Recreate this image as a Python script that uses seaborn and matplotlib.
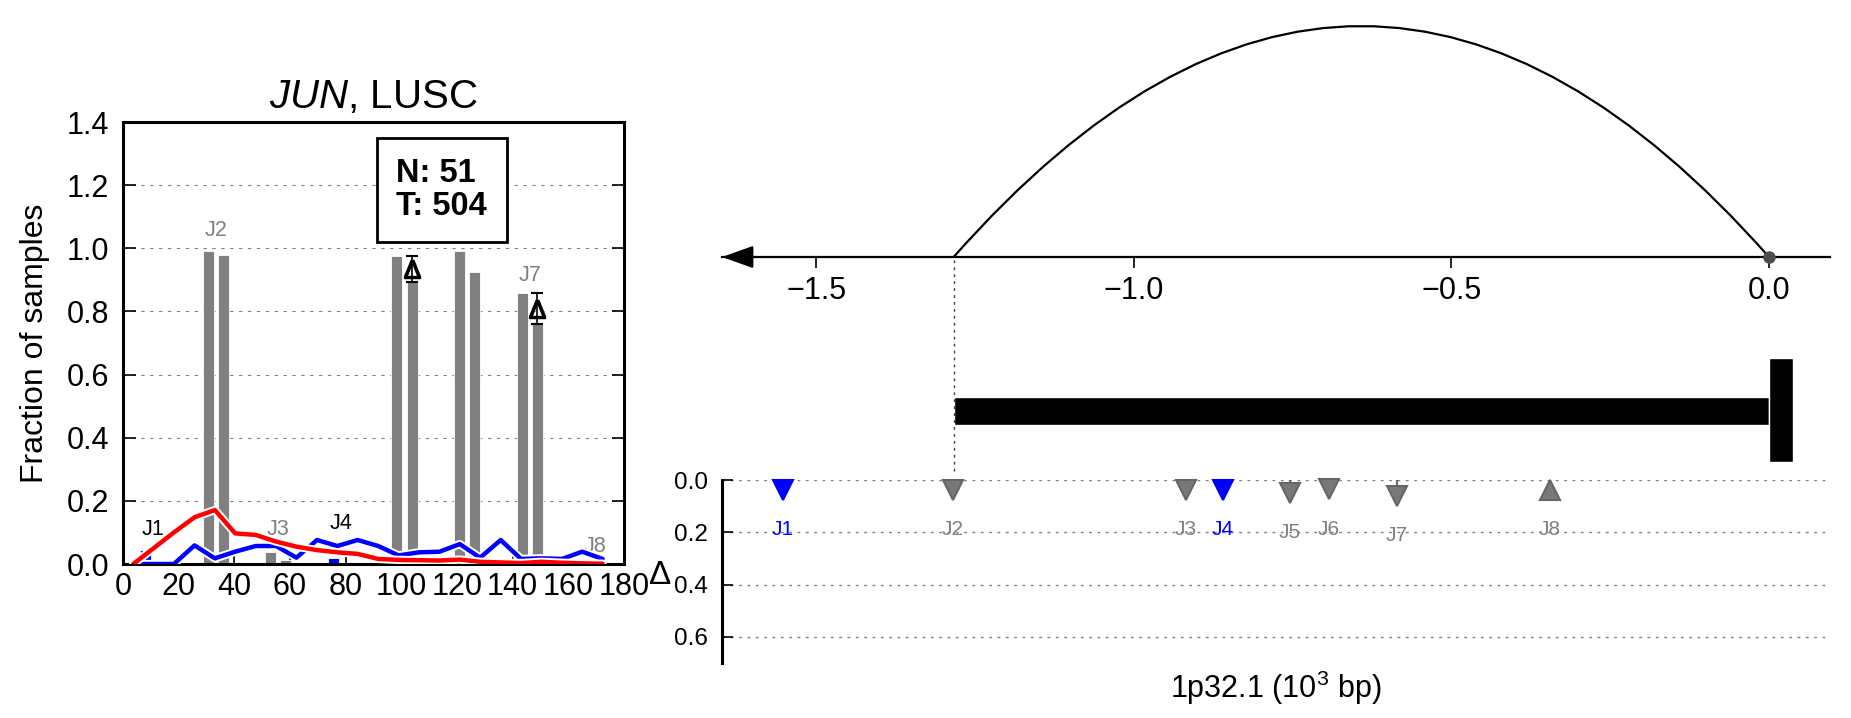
import matplotlib
matplotlib.use("Agg")
import matplotlib.pyplot as plt
import matplotlib.patheffects as pe
from matplotlib.path import Path
from matplotlib.patches import PathPatch
import pandas as pd
import seaborn as sns

# ---------------- data ----------------
# coverage-style profile (left panel), fraction of samples per position bin
bin_pos = [3.7, 11.0, 18.3, 25.7, 33.0, 40.3, 47.7, 55.0, 62.3, 69.7, 77.0, 84.3,
           91.7, 99.0, 106.3, 113.7, 121.0, 128.3, 135.7, 143.0, 150.3, 157.7, 165.0, 172.3]
tumor_frac = [0.0, 0.05, 0.10, 0.148, 0.171, 0.097, 0.092, 0.071, 0.055, 0.044, 0.037, 0.032,
              0.016, 0.013, 0.012, 0.011, 0.014, 0.007, 0.005, 0.003, 0.007, 0.004, 0.002, 0.001]
normal_frac = [0.0, 0.0, 0.0, 0.059, 0.018, 0.039, 0.057, 0.057, 0.020, 0.076, 0.057, 0.076,
               0.057, 0.027, 0.037, 0.039, 0.063, 0.020, 0.076, 0.016, 0.018, 0.016, 0.039, 0.016]

# junctions
junctions = ["J1", "J2", "J3", "J4", "J5", "J6", "J7", "J8"]
junc_center = [10.75, 33.45, 55.7, 78.35, 101.15, 123.55, 146.15, 169.5]
junc_normal = [0.045, 0.990, 0.039, 0.020, 0.976, 0.992, 0.858, 0.0]
junc_tumor = [0.0, 0.978, 0.013, 0.0, 0.893, 0.925, 0.760, 0.0]
junc_label_y = [0.108, 1.055, 0.108, 0.127, 1.036, 1.052, 0.915, 0.055]
normal_specific = [True, False, False, True, False, False, False, False]
delta_significant = [False, False, False, False, True, False, True, False]

n_normal = 51
n_tumor = 504
gene = "JUN"
cancer = "LUSC"

# genomic panel (10^3 bp)
junc_kb = [-1.553, -1.285, -0.918, -0.860, -0.755, -0.693, -0.586, -0.345]
junc_delta = [0.038, 0.038, 0.038, 0.038, 0.048, 0.036, 0.061, 0.037]
junc_marker = ["v", "v", "v", "v", "v", "v", "v", "^"]
gene_start = -1.284
gene_end = 0.0
arc_start = -1.284
arc_end = 0.0
delta_ticks = [0.0, 0.2, 0.4, 0.6]
left_xticks = list(range(0, 181, 20))
left_yticks = [0.0, 0.2, 0.4, 0.6, 0.8, 1.0, 1.2, 1.4]
kb_ticks = [-1.5, -1.0, -0.5, 0.0]

# ---------------- style ----------------
sns.set_style("white")
plt.rcParams["font.family"] = ["Liberation Sans", "DejaVu Sans"]
plt.rcParams["mathtext.fontset"] = "custom"
plt.rcParams["mathtext.rm"] = "Liberation Sans"
plt.rcParams["mathtext.it"] = "Liberation Sans:italic"
plt.rcParams["mathtext.bf"] = "Liberation Sans:bold"
plt.rcParams["axes.unicode_minus"] = True
for key in ("text.color", "axes.labelcolor", "xtick.color", "ytick.color"):
    plt.rcParams[key] = "black"

W, H = 1851, 718
fig = plt.figure(figsize=(W / 100, H / 100), dpi=100)


def px_axes(x0, y0, x1, y1):
    return fig.add_axes([x0 / W, 1 - y1 / H, (x1 - x0) / W, (y1 - y0) / H])


GRAY = "#808080"

# ---------------- left panel ----------------
ax = px_axes(123, 122, 624, 564)
bar_w = 3.9
off = 2.75
for i, j in enumerate(junctions):
    c = "blue" if normal_specific[i] else GRAY
    ax.bar(junc_center[i] - off, junc_normal[i], width=bar_w, color=c,
           edgecolor="white", linewidth=0.6, zorder=2)
    ax.bar(junc_center[i] + off, junc_tumor[i], width=bar_w, color=c,
           edgecolor="white", linewidth=0.6, zorder=2)
    tc = "black" if normal_specific[i] else GRAY
    ax.text(junc_center[i], junc_label_y[i], j, color=tc, fontsize=15.5,
            ha="center", va="center", zorder=3)
    if delta_significant[i]:
        mid = (junc_normal[i] + junc_tumor[i]) / 2
        half = (junc_normal[i] - junc_tumor[i]) / 2
        ax.errorbar(junc_center[i] + off, mid, yerr=half, fmt="none",
                    ecolor="black", elinewidth=1.2, capsize=4, capthick=1.5, zorder=5)
        ax.plot([junc_center[i] + off], [mid], ls="none", marker=r"$\Delta$", ms=13,
                color="black", zorder=6)

df = pd.DataFrame({
    "pos": bin_pos * 2,
    "frac": normal_frac + tumor_frac,
    "group": ["Normal"] * len(bin_pos) + ["Tumor"] * len(bin_pos),
})
n_before = len(ax.lines)
sns.lineplot(data=df, x="pos", y="frac", hue="group", hue_order=["Normal", "Tumor"],
             palette={"Normal": "blue", "Tumor": "red"}, linewidth=3.2,
             legend=False, ax=ax)
for ln in ax.lines[n_before:]:
    ln.set_path_effects([pe.Stroke(linewidth=6, foreground="white"), pe.Normal()])
    ln.set_zorder(4)

ax.set_xlim(0, 180)
ax.set_ylim(0, 1.4)
ax.set_xticks(left_xticks)
ax.set_yticks(left_yticks)
ax.set_yticklabels([f"{v:.1f}" for v in left_yticks])
ax.yaxis.grid(True, linestyle=(0, (3, 5)), color="0.5", linewidth=0.8)
ax.xaxis.grid(False)
ax.tick_params(axis="y", direction="in", left=True, right=True, length=9, width=1.2,
               labelsize=22, pad=10)
ax.tick_params(axis="x", direction="in", bottom=True, top=False, length=6.5, width=1.2,
               labelsize=22, pad=6)
for s in ax.spines.values():
    s.set_linewidth(2.2)
    s.set_color("black")
ax.set_xlabel("")
ax.set_ylabel("Fraction of samples", fontsize=23, labelpad=12)
ax.set_title(r"$\mathit{" + gene + "}$, " + cancer, fontsize=29, pad=10)
ax.text(0.636, 0.846, f"N: {n_normal}\nT: {n_tumor}", transform=ax.transAxes,
        fontsize=23.5, fontweight="bold", ha="center", va="center",
        multialignment="left", zorder=7, linespacing=1.1,
        bbox=dict(boxstyle="square,pad=0.6", fc="white", ec="black", lw=2))

# ---------------- right: junction arc + coordinate axis ----------------
XL = (-1.6488, 0.0961)
ax_arc = px_axes(722, 10, 1830, 257)
ax_arc.set_xlim(*XL)
ax_arc.set_ylim(0, 1)
arc_h = 0.935
verts = [(arc_start, 0), ((arc_start + arc_end) / 2, 2 * arc_h), (arc_end, 0)]
ax_arc.add_patch(PathPatch(Path(verts, [Path.MOVETO, Path.CURVE3, Path.CURVE3]),
                           fc="none", ec="black", lw=1.6, clip_on=False))
ax_arc.plot([arc_end], [0], "o", color="0.3", ms=8, clip_on=False, zorder=5)
for k in ("left", "right", "top"):
    ax_arc.spines[k].set_visible(False)
ax_arc.spines["bottom"].set_linewidth(1.6)
ax_arc.spines["bottom"].set_color("black")
ax_arc.set_yticks([])
ax_arc.set_xticks(kb_ticks)
ax_arc.set_xticklabels([f"{v:.1f}".replace("-", "\u2212") for v in kb_ticks])
ax_arc.tick_params(axis="x", direction="out", length=8, width=1.2, labelsize=22, pad=6,
                   bottom=True)
ax_arc.annotate("", xy=(0, 0), xycoords="axes fraction", xytext=(0.03, 0),
                textcoords="axes fraction", annotation_clip=False,
                arrowprops=dict(arrowstyle="-|>,head_length=1.4,head_width=0.5",
                                color="black", lw=1.5, mutation_scale=14,
                                shrinkA=0, shrinkB=0))
ax_arc.patch.set_alpha(0)

# ---------------- right: gene model ----------------
ax_g = px_axes(722, 257, 1830, 478)
ax_g.set_xlim(*XL)
ax_g.set_ylim(0, 1)
ax_g.axis("off")
ax_g.barh(0.303, gene_end - gene_start, left=gene_start, height=0.127, color="black")
ax_g.bar(gene_end, 0.471, bottom=0.072, width=0.038, align="edge", color="black")
ax_g.axvline(arc_start, ymin=0.03, ymax=1, linestyle=(0, (2, 3)), color="0.25", lw=1)
ax_g.patch.set_alpha(0)

# ---------------- right: delta panel ----------------
ax_d = px_axes(722, 480, 1830, 663)
ax_d.set_xlim(*XL)
ax_d.set_ylim(0.7, 0)
for k in ("right", "top", "bottom"):
    ax_d.spines[k].set_visible(False)
ax_d.spines["left"].set_linewidth(2.2)
ax_d.spines["left"].set_color("black")
ax_d.set_xticks([])
ax_d.set_yticks(delta_ticks)
ax_d.set_yticklabels([f"{v:.1f}" for v in delta_ticks])
ax_d.tick_params(axis="y", direction="in", left=True, length=8, width=1.2,
                 labelsize=17.5, pad=10)
ax_d.yaxis.grid(True, linestyle=(0, (2, 4)), color="0.5", linewidth=1)
for i, j in enumerate(junctions):
    c = "blue" if normal_specific[i] else "0.47"
    ec = "blue" if normal_specific[i] else "0.4"
    if delta_significant[i]:
        ax_d.vlines(junc_kb[i], 0, junc_delta[i], color="0.4", lw=1.5, zorder=3,
                    clip_on=False)
    ax_d.plot([junc_kb[i]], [junc_delta[i]], marker=junc_marker[i], ms=14, mfc=c,
              mec=ec, mew=1.5, ls="none", clip_on=False, zorder=4)
    ax_d.text(junc_kb[i], junc_delta[i] + 0.152, j,
              color="blue" if normal_specific[i] else GRAY,
              fontsize=15, ha="center", va="center")
ax_d.set_xlabel("1p32.1 (10$^3$ bp)", fontsize=22, labelpad=4)
ax_d.set_ylabel("\u0394", fontsize=24, rotation=0, va="center", ha="center")
ax_d.yaxis.set_label_coords(-0.056, 0.48)
ax_d.patch.set_alpha(0)

fig.savefig("out.png", dpi=100)
